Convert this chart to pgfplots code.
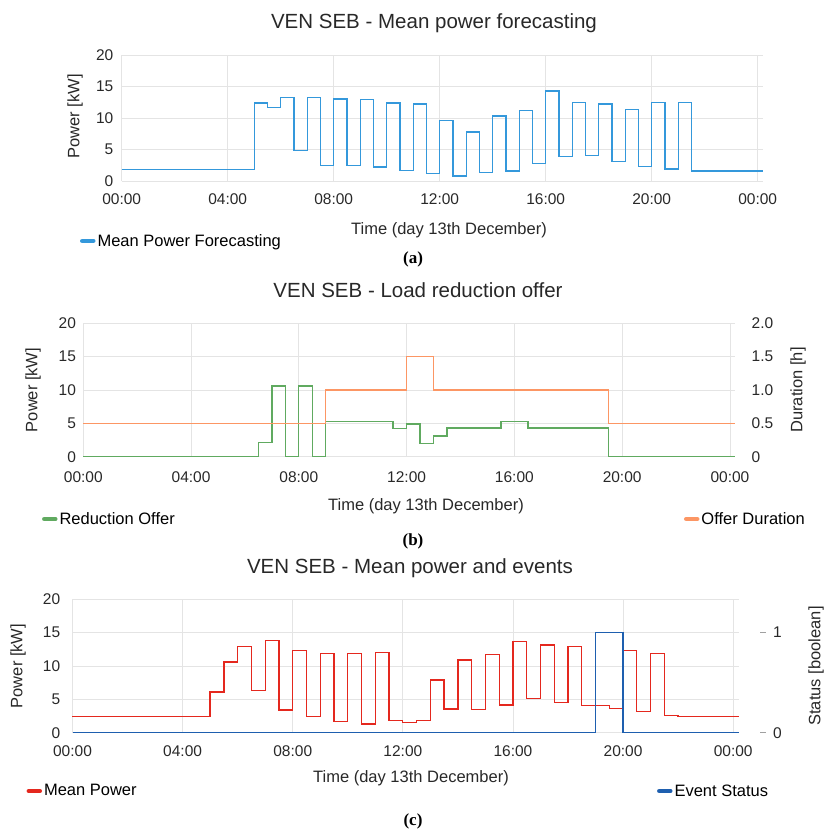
\documentclass[border=0pt]{standalone}
\usepackage{fontspec}
\setmainfont{Liberation Sans}
\newfontfamily\seriffont{Liberation Serif}
\usepackage{pgfplots}
\usepackage{pgfplotstable}
\pgfplotsset{compat=1.18}

\definecolor{cA}{RGB}{52,152,219}
\definecolor{cGreen}{RGB}{96,170,96}
\definecolor{cOrange}{RGB}{252,150,100}
\definecolor{cRed}{RGB}{228,40,30}
\definecolor{cBlue}{RGB}{30,95,175}
\definecolor{gridc}{RGB}{228,228,228}
\definecolor{txt}{RGB}{40,40,40}

\pgfplotstableread{
x y
0 1.8
5 12.4
5.5 11.7
6 13.2
6.5 4.8
7 13.2
7.5 2.5
8 13.0
8.5 2.5
9 12.9
9.5 2.2
10 12.4
10.5 1.7
11 12.2
11.5 1.2
12 9.6
12.5 0.8
13 7.8
13.5 1.4
14 10.3
14.5 1.6
15 11.2
15.5 2.8
16 14.3
16.5 3.9
17 12.5
17.5 4.0
18 12.2
18.5 3.1
19 11.3
19.5 2.3
20 12.5
20.5 1.9
21 12.5
21.5 1.6
24.2 1.6
}\dataForecast

\pgfplotstableread{
x y
0 0
6.5 2.1
7 10.6
7.5 0
8 10.6
8.5 0
9 5.3
11.5 4.2
12 4.9
12.5 2.0
13 3.1
13.5 4.3
15.5 5.3
16.5 4.3
19.5 0
24.2 0
}\dataReduction

\pgfplotstableread{
x y
0 0.5
9 1.0
12 1.5
13 1.0
19.5 0.5
24.2 0.5
}\dataDuration

\pgfplotstableread{
x y
0 2.4
5 6.1
5.5 10.6
6 12.9
6.5 6.3
7 13.8
7.5 3.4
8 12.3
8.5 2.4
9 11.9
9.5 1.65
10 11.9
10.5 1.3
11 12.05
11.5 1.8
12 1.55
12.5 1.8
13 7.9
13.5 3.55
14 10.9
14.5 3.5
15 11.75
15.5 4.15
16 13.65
16.5 5.1
17 13.15
17.5 4.5
18 12.9
18.5 4.05
19.5 3.6
20 12.3
20.5 3.15
21 11.9
21.5 2.6
22 2.45
24.2 2.45
}\dataPower

\pgfplotstableread{
x y
0 0
19 1
20 0
24.2 0
}\dataEvent

\newcommand\titlefont{\fontsize{20.5}{24}\selectfont}
\newcommand\labelfont{\fontsize{16.5}{19}\selectfont}
\newcommand\tickfont{\fontsize{15.5}{18}\selectfont}

\pgfplotsset{
  base/.style={
    scale only axis,
    anchor=south west,
    clip=false,
    axis line style={draw=none},
    major tick style={draw=none},
    xmin=0, xmax=24.2,
    tick label style={font=\tickfont, text=txt},
    /pgf/number format/assume math mode=true,
    legend style={draw=none, fill=none, inner sep=0pt, outer sep=0pt,
      font=\labelfont, anchor=west, legend cell align=left},
    legend image code/.code={\draw[#1, line width=4.5pt, line cap=round] (2pt,0pt) -- (13pt,0pt);},
  },
  leftax/.style={
    base,
    grid=major, major grid style={draw=gridc, line width=0.8pt},
    xtick={0,4,8,12,16,20,24},
    xticklabels={00:00,04:00,08:00,12:00,16:00,20:00,00:00},
    ymin=0, ymax=20, ytick={0,5,10,15,20},
  },
  rightax/.style={
    base,
    hide x axis,
    axis y line*=right,
    yticklabel pos=right,
  },
}

\begin{document}
\begin{tikzpicture}
\useasboundingbox (0,0) rectangle (828pt,-830pt);

% ---------------- panel (a)
\node[font=\titlefont, text=txt, anchor=base] at (434pt,-28.3pt) {VEN SEB - Mean power forecasting};
\begin{axis}[leftax, at={(121.7pt,-181pt)}, width=641.3pt, height=126pt,
  xticklabel style={yshift=-9.3pt},
  yticklabel style={xshift=-4.8pt},
  legend style={at={(axis description cs:-0.065,-0.476)}}]
\addplot[const plot, cA, line width=1.3pt] table {\dataForecast};
\addlegendentry{Mean Power Forecasting}
\end{axis}
\node[font=\labelfont, text=txt, rotate=90] at (75pt,-116.5pt) {Power [kW]};
\node[font=\labelfont, text=txt, anchor=base] at (449pt,-234pt) {Time (day 13th December)};
\node[font=\fontsize{17}{20}\selectfont\seriffont\bfseries] at (413pt,-259pt) {(a)};

% ---------------- panel (b)
\node[font=\titlefont, text=txt, anchor=base] at (418pt,-297.3pt) {VEN SEB - Load reduction offer};
\begin{axis}[leftax, at={(83.3pt,-456.7pt)}, width=652pt, height=133.4pt,
  xticklabel style={yshift=-11.6pt},
  yticklabel style={xshift=-3.8pt},
  legend style={at={(axis description cs:-0.0633,-0.467)}}]
\addplot[const plot, cGreen, line width=1.3pt] table {\dataReduction};
\addlegendentry{Reduction Offer}
\end{axis}
\begin{axis}[rightax, at={(83.3pt,-456.7pt)}, width=652pt, height=133.4pt,
  ymin=0, ymax=2, ytick={0,0.5,1,1.5,2},
  yticklabels={0,0.5,1.0,1.5,2.0},
  yticklabel style={anchor=west, xshift=12.8pt},
  legend style={at={(axis description cs:0.9213,-0.467)}}]
\addplot[const plot, cOrange, line width=1.3pt] table {\dataDuration};
\addlegendentry{Offer Duration}
\end{axis}
\node[font=\labelfont, text=txt, rotate=90] at (33pt,-390pt) {Power [kW]};
\node[font=\labelfont, text=txt, rotate=90] at (798pt,-390pt) {Duration [h]};
\node[font=\labelfont, text=txt, anchor=base] at (426pt,-510pt) {Time (day 13th December)};
\node[font=\fontsize{17}{20}\selectfont\seriffont\bfseries] at (413pt,-541pt) {(b)};

% ---------------- panel (c)
\node[font=\titlefont, text=txt, anchor=base] at (410pt,-573.3pt) {VEN SEB - Mean power and events};
\begin{axis}[leftax, at={(72.5pt,-732.7pt)}, width=666.2pt, height=133.4pt,
  xticklabel style={yshift=-9.6pt},
  yticklabel style={xshift=-8.8pt},
  legend style={at={(axis description cs:-0.069,-0.437)}}]
\addplot[const plot, cRed, line width=1.3pt] table {\dataPower};
\addlegendentry{Mean Power}
\end{axis}
\begin{axis}[rightax, at={(72.5pt,-732.7pt)}, width=666.2pt, height=133.4pt,
  ymin=0, ymax=1.33333, ytick={0,1},
  yticklabel={\textcolor{gridc!70!black}{\rule[0.33em]{6pt}{0.8pt}}\hspace{7pt}\pgfmathprintnumber{\tick}},
  yticklabel style={anchor=west, xshift=18pt},
  legend style={at={(axis description cs:0.8774,-0.437)}}]
\addplot[const plot, cBlue, line width=1.3pt] table {\dataEvent};
\addlegendentry{Event Status}
\end{axis}
\node[font=\labelfont, text=txt, rotate=90] at (18pt,-666pt) {Power [kW]};
\node[font=\labelfont, text=txt, rotate=90] at (816pt,-666pt) {Status [boolean]};
\node[font=\labelfont, text=txt, anchor=base] at (411pt,-782pt) {Time (day 13th December)};
\node[font=\fontsize{17}{20}\selectfont\seriffont\bfseries] at (413pt,-821pt) {(c)};
\end{tikzpicture}
\end{document}
